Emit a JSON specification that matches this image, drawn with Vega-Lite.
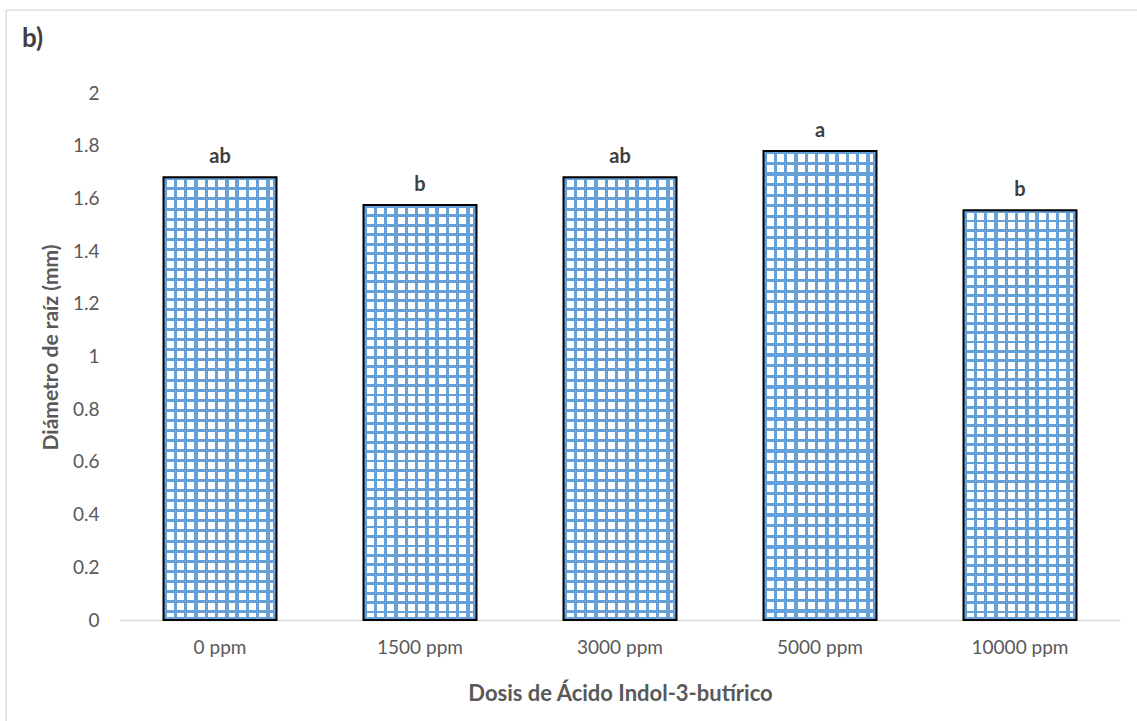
{
  "$schema": "https://vega.github.io/schema/vega-lite/v6.json",
  "autosize": {"type": "none"},
  "width": 1140,
  "height": 720,
  "padding": {"left": 6, "top": 10, "right": 0, "bottom": 0},
  "background": "white",
  "config": {
    "view": {"stroke": "#d9d9d9", "strokeWidth": 1.3},
    "font": "Lato"
  },
  "title": {
    "text": "b)",
    "anchor": "start",
    "frame": "group",
    "orient": "top",
    "offset": -55,
    "baseline": "middle",
    "dx": 16,
    "fontSize": 26,
    "fontWeight": "bold",
    "color": "#404040"
  },
  "data": {
    "values": [
      {"dosis": "0 ppm", "diametro": 1.68, "letra": "ab"},
      {"dosis": "1500 ppm", "diametro": 1.575, "letra": "b"},
      {"dosis": "3000 ppm", "diametro": 1.68, "letra": "ab"},
      {"dosis": "5000 ppm", "diametro": 1.78, "letra": "a"},
      {"dosis": "10000 ppm", "diametro": 1.555, "letra": "b"}
    ]
  },
  "encoding": {
    "x": {
      "field": "dosis",
      "type": "nominal",
      "sort": null,
      "scale": {"type": "band", "range": [114, 1114], "paddingInner": 0.435, "paddingOuter": 0.2175},
      "axis": {
        "orient": "bottom",
        "offset": -110,
        "labelAngle": 0,
        "ticks": false,
        "domainColor": "#d9d9d9",
        "domainWidth": 1.5,
        "labelPadding": 18,
        "labelFontSize": 19,
        "labelColor": "#595959",
        "title": "Dosis de Ácido Indol-3-butírico",
        "titleFontSize": 22,
        "titleFontWeight": "bold",
        "titleColor": "#595959",
        "titleBaseline": "middle",
        "titleY": 73
      }
    },
    "y": {
      "field": "diametro",
      "type": "quantitative",
      "scale": {"domain": [0, 2], "range": [610, 83], "nice": false},
      "axis": {
        "orient": "left",
        "offset": -93,
        "domain": false,
        "ticks": false,
        "grid": false,
        "labelPadding": 0,
        "values": [0, 0.2, 0.4, 0.6, 0.8, 1, 1.2, 1.4, 1.6, 1.8, 2],
        "format": "~g",
        "labelFontSize": 19,
        "labelColor": "#595959",
        "title": "Diámetro de raíz (mm)",
        "titleFontSize": 21,
        "titleFontWeight": "bold",
        "titleColor": "#595959",
        "titleBaseline": "middle",
        "titleAlign": "center",
        "titleX": -48,
        "titleY": 337
      }
    }
  },
  "layer": [
    {"mark": {"type": "bar", "fill": "white"}},
    {
      "mark": {
        "type": "bar",
        "fill": {
          "gradient": "linear", "x1": 0, "y1": 0, "x2": 1, "y2": 0,
          "stops": [
            {"offset": 0, "color": "#66a0d9"}, {"offset": 0.03, "color": "#66a0d9"}, {"offset": 0.03, "color": "rgba(255,255,255,0)"}, {"offset": 0.0909, "color": "rgba(255,255,255,0)"},
            {"offset": 0.0909, "color": "#66a0d9"}, {"offset": 0.1209, "color": "#66a0d9"}, {"offset": 0.1209, "color": "rgba(255,255,255,0)"}, {"offset": 0.1818, "color": "rgba(255,255,255,0)"},
            {"offset": 0.1818, "color": "#66a0d9"}, {"offset": 0.2118, "color": "#66a0d9"}, {"offset": 0.2118, "color": "rgba(255,255,255,0)"}, {"offset": 0.2727, "color": "rgba(255,255,255,0)"},
            {"offset": 0.2727, "color": "#66a0d9"}, {"offset": 0.3027, "color": "#66a0d9"}, {"offset": 0.3027, "color": "rgba(255,255,255,0)"}, {"offset": 0.3636, "color": "rgba(255,255,255,0)"},
            {"offset": 0.3636, "color": "#66a0d9"}, {"offset": 0.3936, "color": "#66a0d9"}, {"offset": 0.3936, "color": "rgba(255,255,255,0)"}, {"offset": 0.4545, "color": "rgba(255,255,255,0)"},
            {"offset": 0.4545, "color": "#66a0d9"}, {"offset": 0.4845, "color": "#66a0d9"}, {"offset": 0.4845, "color": "rgba(255,255,255,0)"}, {"offset": 0.5455, "color": "rgba(255,255,255,0)"},
            {"offset": 0.5455, "color": "#66a0d9"}, {"offset": 0.5755, "color": "#66a0d9"}, {"offset": 0.5755, "color": "rgba(255,255,255,0)"}, {"offset": 0.6364, "color": "rgba(255,255,255,0)"},
            {"offset": 0.6364, "color": "#66a0d9"}, {"offset": 0.6664, "color": "#66a0d9"}, {"offset": 0.6664, "color": "rgba(255,255,255,0)"}, {"offset": 0.7273, "color": "rgba(255,255,255,0)"},
            {"offset": 0.7273, "color": "#66a0d9"}, {"offset": 0.7573, "color": "#66a0d9"}, {"offset": 0.7573, "color": "rgba(255,255,255,0)"}, {"offset": 0.8182, "color": "rgba(255,255,255,0)"},
            {"offset": 0.8182, "color": "#66a0d9"}, {"offset": 0.8482, "color": "#66a0d9"}, {"offset": 0.8482, "color": "rgba(255,255,255,0)"}, {"offset": 0.9091, "color": "rgba(255,255,255,0)"},
            {"offset": 0.9091, "color": "#66a0d9"}, {"offset": 0.9391, "color": "#66a0d9"}, {"offset": 0.9391, "color": "rgba(255,255,255,0)"}, {"offset": 0.97, "color": "rgba(255,255,255,0)"},
            {"offset": 0.97, "color": "#66a0d9"}, {"offset": 1, "color": "#66a0d9"}
          ]
        }
      }
    },
    {
      "mark": {
        "type": "bar",
        "stroke": "black",
        "strokeWidth": 2,
        "fill": {
          "gradient": "linear", "x1": 0, "y1": 0, "x2": 0, "y2": 1,
          "stops": [
            {"offset": 0, "color": "#66a0d9"}, {"offset": 0.0068, "color": "#66a0d9"}, {"offset": 0.0068, "color": "rgba(255,255,255,0)"}, {"offset": 0.0227, "color": "rgba(255,255,255,0)"},
            {"offset": 0.0227, "color": "#66a0d9"}, {"offset": 0.0295, "color": "#66a0d9"}, {"offset": 0.0295, "color": "rgba(255,255,255,0)"}, {"offset": 0.0455, "color": "rgba(255,255,255,0)"},
            {"offset": 0.0455, "color": "#66a0d9"}, {"offset": 0.0523, "color": "#66a0d9"}, {"offset": 0.0523, "color": "rgba(255,255,255,0)"}, {"offset": 0.0682, "color": "rgba(255,255,255,0)"},
            {"offset": 0.0682, "color": "#66a0d9"}, {"offset": 0.075, "color": "#66a0d9"}, {"offset": 0.075, "color": "rgba(255,255,255,0)"}, {"offset": 0.0909, "color": "rgba(255,255,255,0)"},
            {"offset": 0.0909, "color": "#66a0d9"}, {"offset": 0.0977, "color": "#66a0d9"}, {"offset": 0.0977, "color": "rgba(255,255,255,0)"}, {"offset": 0.1136, "color": "rgba(255,255,255,0)"},
            {"offset": 0.1136, "color": "#66a0d9"}, {"offset": 0.1204, "color": "#66a0d9"}, {"offset": 0.1204, "color": "rgba(255,255,255,0)"}, {"offset": 0.1364, "color": "rgba(255,255,255,0)"},
            {"offset": 0.1364, "color": "#66a0d9"}, {"offset": 0.1432, "color": "#66a0d9"}, {"offset": 0.1432, "color": "rgba(255,255,255,0)"}, {"offset": 0.1591, "color": "rgba(255,255,255,0)"},
            {"offset": 0.1591, "color": "#66a0d9"}, {"offset": 0.1659, "color": "#66a0d9"}, {"offset": 0.1659, "color": "rgba(255,255,255,0)"}, {"offset": 0.1818, "color": "rgba(255,255,255,0)"},
            {"offset": 0.1818, "color": "#66a0d9"}, {"offset": 0.1886, "color": "#66a0d9"}, {"offset": 0.1886, "color": "rgba(255,255,255,0)"}, {"offset": 0.2045, "color": "rgba(255,255,255,0)"},
            {"offset": 0.2045, "color": "#66a0d9"}, {"offset": 0.2113, "color": "#66a0d9"}, {"offset": 0.2113, "color": "rgba(255,255,255,0)"}, {"offset": 0.2273, "color": "rgba(255,255,255,0)"},
            {"offset": 0.2273, "color": "#66a0d9"}, {"offset": 0.2341, "color": "#66a0d9"}, {"offset": 0.2341, "color": "rgba(255,255,255,0)"}, {"offset": 0.25, "color": "rgba(255,255,255,0)"},
            {"offset": 0.25, "color": "#66a0d9"}, {"offset": 0.2568, "color": "#66a0d9"}, {"offset": 0.2568, "color": "rgba(255,255,255,0)"}, {"offset": 0.2727, "color": "rgba(255,255,255,0)"},
            {"offset": 0.2727, "color": "#66a0d9"}, {"offset": 0.2795, "color": "#66a0d9"}, {"offset": 0.2795, "color": "rgba(255,255,255,0)"}, {"offset": 0.2955, "color": "rgba(255,255,255,0)"},
            {"offset": 0.2955, "color": "#66a0d9"}, {"offset": 0.3023, "color": "#66a0d9"}, {"offset": 0.3023, "color": "rgba(255,255,255,0)"}, {"offset": 0.3182, "color": "rgba(255,255,255,0)"},
            {"offset": 0.3182, "color": "#66a0d9"}, {"offset": 0.325, "color": "#66a0d9"}, {"offset": 0.325, "color": "rgba(255,255,255,0)"}, {"offset": 0.3409, "color": "rgba(255,255,255,0)"},
            {"offset": 0.3409, "color": "#66a0d9"}, {"offset": 0.3477, "color": "#66a0d9"}, {"offset": 0.3477, "color": "rgba(255,255,255,0)"}, {"offset": 0.3636, "color": "rgba(255,255,255,0)"},
            {"offset": 0.3636, "color": "#66a0d9"}, {"offset": 0.3704, "color": "#66a0d9"}, {"offset": 0.3704, "color": "rgba(255,255,255,0)"}, {"offset": 0.3864, "color": "rgba(255,255,255,0)"},
            {"offset": 0.3864, "color": "#66a0d9"}, {"offset": 0.3932, "color": "#66a0d9"}, {"offset": 0.3932, "color": "rgba(255,255,255,0)"}, {"offset": 0.4091, "color": "rgba(255,255,255,0)"},
            {"offset": 0.4091, "color": "#66a0d9"}, {"offset": 0.4159, "color": "#66a0d9"}, {"offset": 0.4159, "color": "rgba(255,255,255,0)"}, {"offset": 0.4318, "color": "rgba(255,255,255,0)"},
            {"offset": 0.4318, "color": "#66a0d9"}, {"offset": 0.4386, "color": "#66a0d9"}, {"offset": 0.4386, "color": "rgba(255,255,255,0)"}, {"offset": 0.4545, "color": "rgba(255,255,255,0)"},
            {"offset": 0.4545, "color": "#66a0d9"}, {"offset": 0.4613, "color": "#66a0d9"}, {"offset": 0.4613, "color": "rgba(255,255,255,0)"}, {"offset": 0.4773, "color": "rgba(255,255,255,0)"},
            {"offset": 0.4773, "color": "#66a0d9"}, {"offset": 0.4841, "color": "#66a0d9"}, {"offset": 0.4841, "color": "rgba(255,255,255,0)"}, {"offset": 0.5, "color": "rgba(255,255,255,0)"},
            {"offset": 0.5, "color": "#66a0d9"}, {"offset": 0.5068, "color": "#66a0d9"}, {"offset": 0.5068, "color": "rgba(255,255,255,0)"}, {"offset": 0.5227, "color": "rgba(255,255,255,0)"},
            {"offset": 0.5227, "color": "#66a0d9"}, {"offset": 0.5295, "color": "#66a0d9"}, {"offset": 0.5295, "color": "rgba(255,255,255,0)"}, {"offset": 0.5455, "color": "rgba(255,255,255,0)"},
            {"offset": 0.5455, "color": "#66a0d9"}, {"offset": 0.5523, "color": "#66a0d9"}, {"offset": 0.5523, "color": "rgba(255,255,255,0)"}, {"offset": 0.5682, "color": "rgba(255,255,255,0)"},
            {"offset": 0.5682, "color": "#66a0d9"}, {"offset": 0.575, "color": "#66a0d9"}, {"offset": 0.575, "color": "rgba(255,255,255,0)"}, {"offset": 0.5909, "color": "rgba(255,255,255,0)"},
            {"offset": 0.5909, "color": "#66a0d9"}, {"offset": 0.5977, "color": "#66a0d9"}, {"offset": 0.5977, "color": "rgba(255,255,255,0)"}, {"offset": 0.6136, "color": "rgba(255,255,255,0)"},
            {"offset": 0.6136, "color": "#66a0d9"}, {"offset": 0.6204, "color": "#66a0d9"}, {"offset": 0.6204, "color": "rgba(255,255,255,0)"}, {"offset": 0.6364, "color": "rgba(255,255,255,0)"},
            {"offset": 0.6364, "color": "#66a0d9"}, {"offset": 0.6432, "color": "#66a0d9"}, {"offset": 0.6432, "color": "rgba(255,255,255,0)"}, {"offset": 0.6591, "color": "rgba(255,255,255,0)"},
            {"offset": 0.6591, "color": "#66a0d9"}, {"offset": 0.6659, "color": "#66a0d9"}, {"offset": 0.6659, "color": "rgba(255,255,255,0)"}, {"offset": 0.6818, "color": "rgba(255,255,255,0)"},
            {"offset": 0.6818, "color": "#66a0d9"}, {"offset": 0.6886, "color": "#66a0d9"}, {"offset": 0.6886, "color": "rgba(255,255,255,0)"}, {"offset": 0.7045, "color": "rgba(255,255,255,0)"},
            {"offset": 0.7045, "color": "#66a0d9"}, {"offset": 0.7113, "color": "#66a0d9"}, {"offset": 0.7113, "color": "rgba(255,255,255,0)"}, {"offset": 0.7273, "color": "rgba(255,255,255,0)"},
            {"offset": 0.7273, "color": "#66a0d9"}, {"offset": 0.7341, "color": "#66a0d9"}, {"offset": 0.7341, "color": "rgba(255,255,255,0)"}, {"offset": 0.75, "color": "rgba(255,255,255,0)"},
            {"offset": 0.75, "color": "#66a0d9"}, {"offset": 0.7568, "color": "#66a0d9"}, {"offset": 0.7568, "color": "rgba(255,255,255,0)"}, {"offset": 0.7727, "color": "rgba(255,255,255,0)"},
            {"offset": 0.7727, "color": "#66a0d9"}, {"offset": 0.7795, "color": "#66a0d9"}, {"offset": 0.7795, "color": "rgba(255,255,255,0)"}, {"offset": 0.7955, "color": "rgba(255,255,255,0)"},
            {"offset": 0.7955, "color": "#66a0d9"}, {"offset": 0.8023, "color": "#66a0d9"}, {"offset": 0.8023, "color": "rgba(255,255,255,0)"}, {"offset": 0.8182, "color": "rgba(255,255,255,0)"},
            {"offset": 0.8182, "color": "#66a0d9"}, {"offset": 0.825, "color": "#66a0d9"}, {"offset": 0.825, "color": "rgba(255,255,255,0)"}, {"offset": 0.8409, "color": "rgba(255,255,255,0)"},
            {"offset": 0.8409, "color": "#66a0d9"}, {"offset": 0.8477, "color": "#66a0d9"}, {"offset": 0.8477, "color": "rgba(255,255,255,0)"}, {"offset": 0.8636, "color": "rgba(255,255,255,0)"},
            {"offset": 0.8636, "color": "#66a0d9"}, {"offset": 0.8704, "color": "#66a0d9"}, {"offset": 0.8704, "color": "rgba(255,255,255,0)"}, {"offset": 0.8864, "color": "rgba(255,255,255,0)"},
            {"offset": 0.8864, "color": "#66a0d9"}, {"offset": 0.8932, "color": "#66a0d9"}, {"offset": 0.8932, "color": "rgba(255,255,255,0)"}, {"offset": 0.9091, "color": "rgba(255,255,255,0)"},
            {"offset": 0.9091, "color": "#66a0d9"}, {"offset": 0.9159, "color": "#66a0d9"}, {"offset": 0.9159, "color": "rgba(255,255,255,0)"}, {"offset": 0.9318, "color": "rgba(255,255,255,0)"},
            {"offset": 0.9318, "color": "#66a0d9"}, {"offset": 0.9386, "color": "#66a0d9"}, {"offset": 0.9386, "color": "rgba(255,255,255,0)"}, {"offset": 0.9545, "color": "rgba(255,255,255,0)"},
            {"offset": 0.9545, "color": "#66a0d9"}, {"offset": 0.9613, "color": "#66a0d9"}, {"offset": 0.9613, "color": "rgba(255,255,255,0)"}, {"offset": 0.9773, "color": "rgba(255,255,255,0)"},
            {"offset": 0.9773, "color": "#66a0d9"}, {"offset": 0.9841, "color": "#66a0d9"}, {"offset": 0.9841, "color": "rgba(255,255,255,0)"}, {"offset": 0.9932, "color": "rgba(255,255,255,0)"},
            {"offset": 0.9932, "color": "#66a0d9"}, {"offset": 1, "color": "#66a0d9"}
          ]
        }
      }
    },
    {
      "mark": {"type": "text", "baseline": "alphabetic", "dy": -14, "fontSize": 20, "fontWeight": "bold", "color": "#404040"},
      "encoding": {"text": {"field": "letra"}}
    }
  ]
}
